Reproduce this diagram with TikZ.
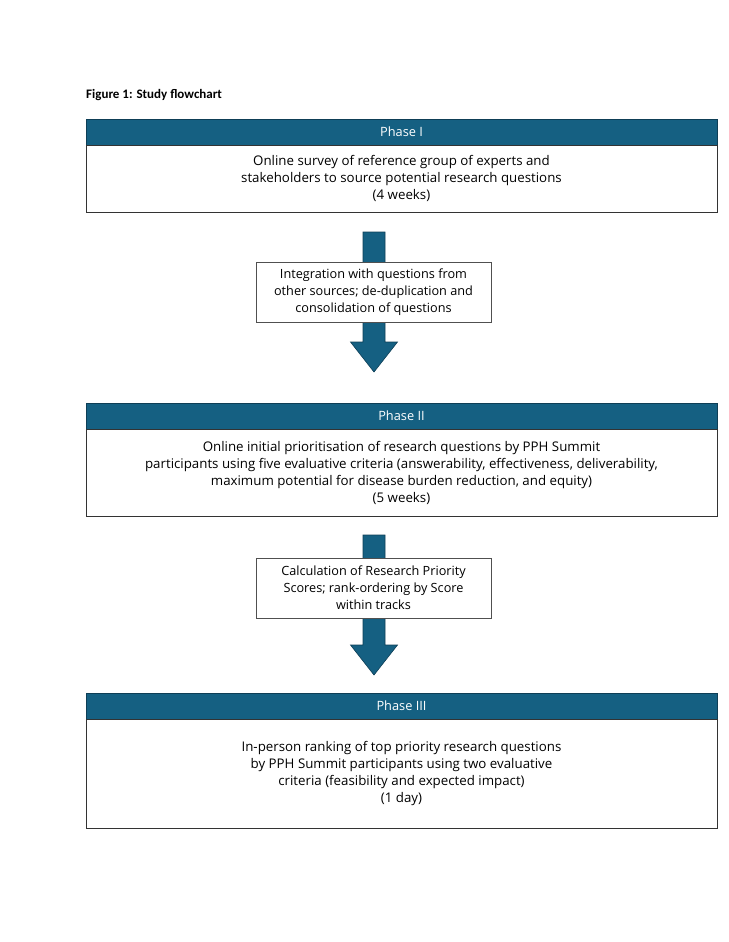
\documentclass[tikz,border=0pt]{standalone}
\usepackage{fontspec}
\setmainfont{Open Sans}
\newfontfamily\titlefont{Carlito}
\usepackage{tikz}
\usetikzlibrary{positioning,calc}
\definecolor{white}{RGB}{255,255,255}
\definecolor{dark_teal}{RGB}{21,96,130}
\definecolor{teal_edge}{RGB}{14,62,86}
\definecolor{box_edge}{RGB}{80,80,80}

\tikzset{
	phasehead/.style={rectangle,draw=teal_edge,fill=dark_teal,text=white,minimum width=631pt,minimum height=26pt,inner sep=0pt,outer sep=0pt,font=\fontsize{12.8}{17}\selectfont},
	phasebody/.style={rectangle,draw=black!80,fill=white,minimum width=631pt,align=center,inner sep=0pt,outer sep=0pt,font=\fontsize{13.3}{17}\selectfont},
	stepbox/.style={rectangle,draw=box_edge,fill=white,minimum width=235pt,minimum height=60pt,align=center,inner sep=0pt,font=\fontsize{12.7}{17}\selectfont},
	bigarrow/.style={draw=teal_edge,fill=dark_teal,line width=0.6pt}
}

\begin{document}
\begin{tikzpicture}[x=1pt,y=-1pt]
	\useasboundingbox (0,0) rectangle (728,942);
	\node[anchor=base west,inner sep=0pt,font=\titlefont\fontsize{13}{15}\selectfont\bfseries] (title) at (86,98) {Figure 1: Study flowchart};
	
	\node[phasehead] (head1) at (401.5,132) {Phase I};
	\node[phasebody,minimum height=67pt,below=0pt of head1] (body1) {Online survey of reference group of experts and\\stakeholders to source potential research questions\\(4 weeks)};
	
	\node[phasehead] (head2) at (401.5,416) {Phase II};
	\node[phasebody,minimum height=87pt,below=0pt of head2] (body2) {Online initial prioritisation of research questions by PPH Summit\\participants using five evaluative criteria (answerability, effectiveness, deliverability,\\maximum potential for disease burden reduction, and equity)\\(5 weeks)};
	
	\node[phasehead] (head3) at (401.5,706) {Phase III};
	\node[phasebody,minimum height=109pt,below=0pt of head3] (body3) {In-person ranking of top priority research questions\\by PPH Summit participants using two evaluative\\criteria (feasibility and expected impact)\\(1 day)};
	
	\coordinate (top1) at (374,232);
	\coordinate (tip1) at (374,372);
	\coordinate (top2) at (374,535);
	\coordinate (tip2) at (374,675);
	
	\foreach \n in {1,2}
		\draw[bigarrow] ($(top\n)+(-11,0)$) -- ($(top\n)+(11,0)$) -- ($(tip\n)+(11,-30)$) -- ($(tip\n)+(23.5,-30)$) -- (tip\n) -- ($(tip\n)+(-23.5,-30)$) -- ($(tip\n)+(-11,-30)$) -- cycle;
	
	\node[stepbox] (mid1) at (373.5,292) {Integration with questions from\\other sources; de-duplication and\\consolidation of questions};
	\node[stepbox] (mid2) at (373.5,588) {Calculation of Research Priority\\Scores; rank-ordering by Score\\within tracks};
\end{tikzpicture}
\end{document}
